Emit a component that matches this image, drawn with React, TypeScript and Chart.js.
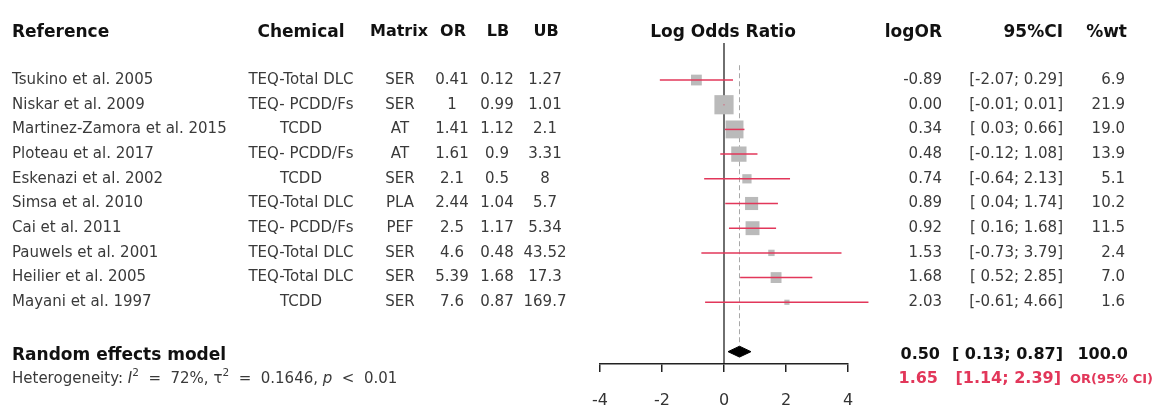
import React, { useEffect, useRef } from 'react';
import { Chart, registerables } from 'chart.js';
Chart.register(...registerables);

const studies = ['Tsukino et al. 2005', 'Niskar et al. 2009', 'Martinez-Zamora et al. 2015', 'Ploteau et al. 2017', 'Eskenazi et al. 2002', 'Simsa et al. 2010', 'Cai et al. 2011', 'Pauwels et al. 2001', 'Heilier et al. 2005', 'Mayani et al. 1997'];
const chemicals = ['TEQ-Total DLC', 'TEQ- PCDD/Fs', 'TCDD', 'TEQ- PCDD/Fs', 'TCDD', 'TEQ-Total DLC', 'TEQ- PCDD/Fs', 'TEQ-Total DLC', 'TEQ-Total DLC', 'TCDD'];
const matrices = ['SER', 'SER', 'AT', 'AT', 'SER', 'PLA', 'PEF', 'SER', 'SER', 'SER'];
const orValues = ['0.41', '1', '1.41', '1.61', '2.1', '2.44', '2.5', '4.6', '5.39', '7.6'];
const lbValues = ['0.12', '0.99', '1.12', '0.9', '0.5', '1.04', '1.17', '0.48', '1.68', '0.87'];
const ubValues = ['1.27', '1.01', '2.1', '3.31', '8', '5.7', '5.34', '43.52', '17.3', '169.7'];
const logOR = [-0.89, 0.0, 0.34, 0.48, 0.74, 0.89, 0.92, 1.53, 1.68, 2.03];
const ciLow = [-2.07, -0.01, 0.03, -0.12, -0.64, 0.04, 0.16, -0.73, 0.52, -0.61];
const ciHigh = [0.29, 0.01, 0.66, 1.08, 2.13, 1.74, 1.68, 3.79, 2.85, 4.66];
const weights = [6.9, 21.9, 19.0, 13.9, 5.1, 10.2, 11.5, 2.4, 7.0, 1.6];
const pooledEst = 0.5;
const pooledLow = 0.13;
const pooledHigh = 0.87;
const pooledWeight = 100.0;
const pooledOR = 1.65;
const pooledORLow = 1.14;
const pooledORHigh = 2.39;
const xTicks = [-4, -2, 0, 2, 4];

const FONT = "'DejaVu Sans', sans-serif";
const RED = '#e2375a';
const ROW_POOLED = 11;

const fmt = (v: number) => (v < 0 ? '' : ' ') + v.toFixed(2);

const textPlugin = {
  id: 'forestText',
  afterDraw(chart: any) {
    const ctx = chart.ctx as CanvasRenderingContext2D;
    const ys = chart.scales.y;
    const py = (r: number) => ys.getPixelForValue(r);
    ctx.save();
    ctx.textBaseline = 'middle';
    const put = (t: string, x: number, y: number, align: CanvasTextAlign, font: string, color: string) => {
      ctx.font = font;
      ctx.fillStyle = color;
      ctx.textAlign = align;
      ctx.fillText(t, x, y);
    };
    const hFont = `bold 17px ${FONT}`;
    const hFontS = `bold 16px ${FONT}`;
    const dFont = `15px ${FONT}`;
    const dCol = '#3a3a3a';
    const hy = py(-1.94);
    put('Reference', 12, hy, 'left', hFont, '#111');
    put('Chemical', 301, hy, 'center', hFont, '#111');
    put('Matrix', 399, hy, 'center', hFontS, '#111');
    put('OR', 453, hy, 'center', hFontS, '#111');
    put('LB', 498, hy, 'center', hFontS, '#111');
    put('UB', 546, hy, 'center', hFontS, '#111');
    put('Log Odds Ratio', 723, hy, 'center', hFont, '#111');
    put('logOR', 942, hy, 'right', hFont, '#111');
    put('95%CI', 1063, hy, 'right', hFont, '#111');
    put('%wt', 1127, hy, 'right', hFont, '#111');

    studies.forEach((s, i) => {
      const y = py(i);
      put(s, 12, y, 'left', dFont, dCol);
      put(chemicals[i], 301, y, 'center', dFont, dCol);
      put(matrices[i], 400, y, 'center', dFont, dCol);
      put(orValues[i], 452, y, 'center', dFont, dCol);
      put(lbValues[i], 497, y, 'center', dFont, dCol);
      put(ubValues[i], 545, y, 'center', dFont, dCol);
      put(logOR[i].toFixed(2), 942, y, 'right', dFont, dCol);
      put(`[${fmt(ciLow[i])};${fmt(ciHigh[i])}]`, 1063, y, 'right', dFont, dCol);
      put(weights[i].toFixed(1), 1125, y, 'right', dFont, dCol);
    });

    const ry = py(11.14);
    put('Random effects model', 12, ry, 'left', hFont, '#111');
    put(pooledEst.toFixed(2), 940, ry, 'right', hFontS, '#111');
    put(`[${fmt(pooledLow)};${fmt(pooledHigh)}]`, 1063, ry, 'right', hFontS, '#111');
    put(pooledWeight.toFixed(1), 1128, ry, 'right', hFontS, '#111');

    const hy2 = py(12.1);
    // heterogeneity line with italics / superscripts
    let x = 12;
    const seg = (t: string, font: string, dy = 0) => {
      ctx.font = font;
      ctx.fillStyle = dCol;
      ctx.textAlign = 'left';
      ctx.fillText(t, x, hy2 + dy);
      x += ctx.measureText(t).width;
    };
    const it = `italic 15px ${FONT}`;
    const sup = `10.5px ${FONT}`;
    seg('Heterogeneity: ', dFont);
    seg('I', it);
    seg('2', sup, -6);
    seg('  =  72%, ', dFont);
    seg('\u03c4', dFont);
    seg('2', sup, -6);
    seg('  =  0.1646, ', dFont);
    seg('p', it);
    seg('  <  0.01', dFont);

    put(pooledOR.toFixed(2), 938, hy2, 'right', hFontS, RED);
    put(`[${pooledORLow.toFixed(2)}; ${pooledORHigh.toFixed(2)}]`, 1061, hy2, 'right', hFontS, RED);
    put('OR(95% CI)', 1070, hy2 + 1, 'left', `bold 13px ${FONT}`, RED);
    ctx.restore();
  },
};

export default function App() {
  const ref = useRef<HTMLCanvasElement | null>(null);
  useEffect(() => {
    document.body.style.margin = '0';
    document.body.style.overflow = 'hidden';
    const canvas = ref.current;
    if (!canvas) return;
    const ciSets = studies.map((_, i) => ({
      type: 'scatter' as const,
      data: [
        { x: ciLow[i], y: i },
        { x: ciHigh[i], y: i },
      ],
      showLine: true,
      borderColor: RED,
      borderWidth: 1.5,
      pointRadius: 0,
      clip: false as any,
      order: 1,
    }));
    const chart = new Chart(canvas, {
      type: 'scatter',
      data: {
        datasets: [
          ...ciSets,
          {
            data: [
              { x: pooledLow, y: ROW_POOLED },
              { x: pooledEst, y: ROW_POOLED - 0.22 },
              { x: pooledHigh, y: ROW_POOLED },
              { x: pooledEst, y: ROW_POOLED + 0.22 },
              { x: pooledLow, y: ROW_POOLED },
            ],
            showLine: true,
            fill: 'shape' as any,
            backgroundColor: '#000',
            borderColor: '#000',
            borderWidth: 1,
            pointRadius: 0,
            order: 0,
          },
          {
            data: logOR.map((v, i) => ({ x: v, y: i })),
            pointStyle: 'rect',
            pointRadius: weights.map((w) => (4.1 * Math.sqrt(w)) / Math.SQRT2),
            backgroundColor: '#bababa',
            borderWidth: 0,
            clip: false as any,
            order: 3,
          },
          {
            data: [
              { x: pooledEst, y: -0.6 },
              { x: pooledEst, y: 10.7 },
            ],
            showLine: true,
            borderColor: '#a8a8a8',
            borderWidth: 1,
            borderDash: [5, 3],
            pointRadius: 0,
            order: 4,
          },
          {
            data: [
              { x: 0, y: -1.5 },
              { x: 0, y: 11.5 },
            ],
            showLine: true,
            borderColor: '#111',
            borderWidth: 1.2,
            pointRadius: 0,
            order: 5,
          },
        ] as any,
      },
      options: {
        responsive: false,
        animation: false,
        layout: { padding: { left: 600, right: 317, top: 43, bottom: 0 } },
        plugins: { legend: { display: false }, tooltip: { enabled: false } },
        scales: {
          x: {
            type: 'linear',
            min: -4,
            max: 4,
            afterBuildTicks: (s: any) => {
              s.ticks = xTicks.map((v) => ({ value: v }));
            },
            afterFit: (s: any) => {
              s.height = 52;
            },
            ticks: { font: { family: FONT, size: 16 }, color: '#333', padding: 19 },
            grid: { drawOnChartArea: false, drawTicks: true, tickLength: 8, color: '#222', lineWidth: 1.5 },
            border: { display: true, color: '#222', width: 1.5 },
          },
          y: { type: 'linear', min: -1.5, max: 11.5, reverse: true, display: false },
        },
      },
      plugins: [textPlugin],
    });
    return () => chart.destroy();
  }, []);
  return <canvas ref={ref} width={1165} height={416} style={{ display: 'block' }} />;
}
